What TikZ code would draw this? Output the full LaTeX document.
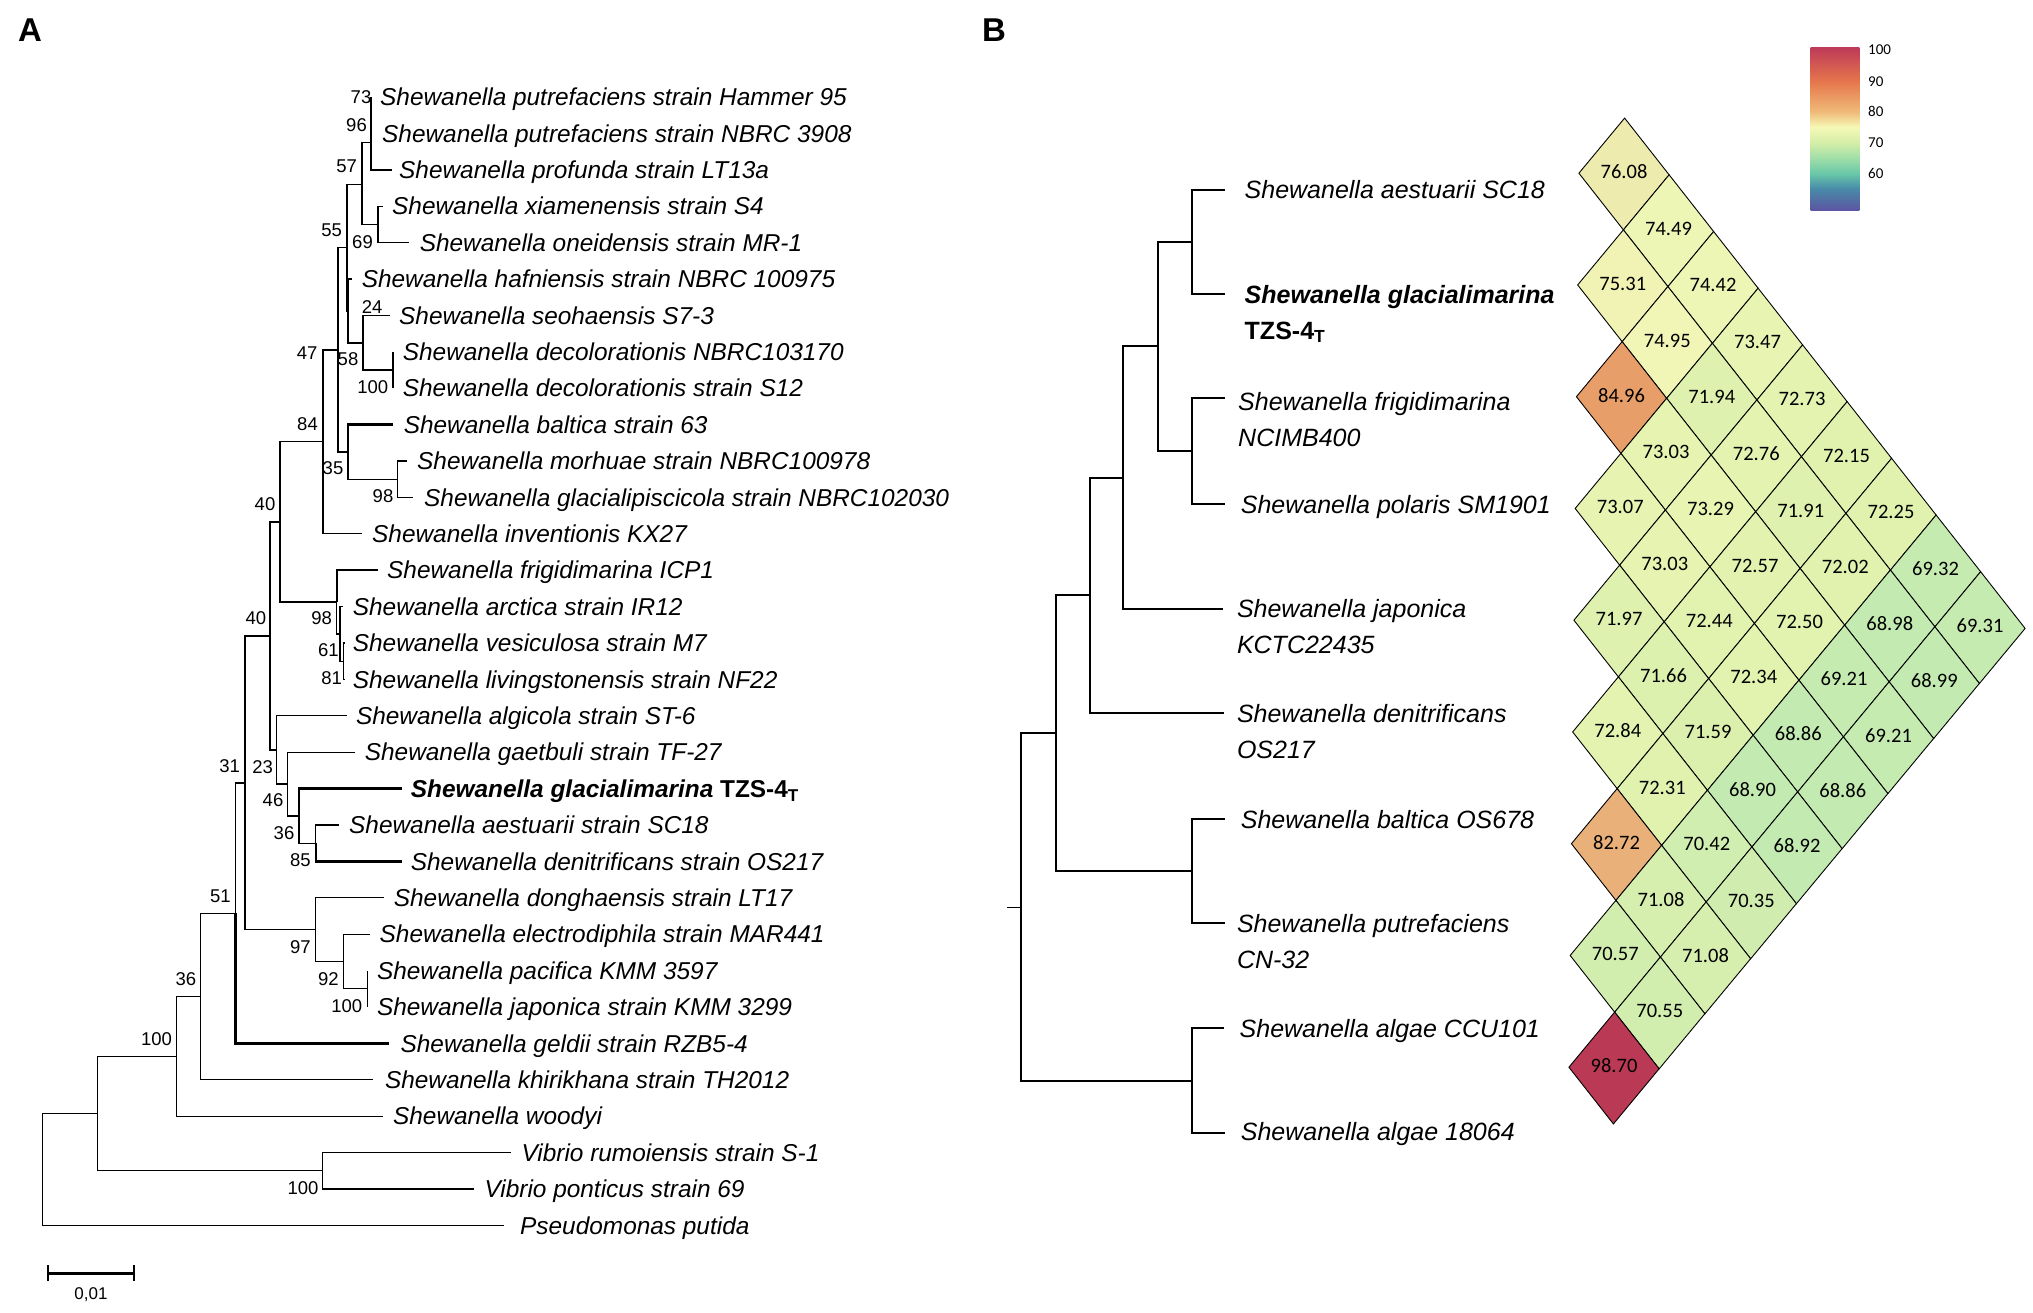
\documentclass[tikz,border=0pt]{standalone}
\usepackage{fontspec}
\setmainfont{Liberation Sans}
\newfontfamily\cellfont{Carlito}
\usetikzlibrary{positioning}

% colour bar of panel B
\definecolor{cb48}{RGB}{92,84,162}
\definecolor{cb55}{RGB}{72,140,168}
\definecolor{cb60}{RGB}{105,200,168}
\definecolor{cb65}{RGB}{160,222,168}
\definecolor{cb70}{RGB}{212,238,168}
\definecolor{cb75}{RGB}{246,248,182}
\definecolor{cb80}{RGB}{240,186,120}
\definecolor{cb90}{RGB}{230,118,76}
\definecolor{cb100}{RGB}{190,58,88}
\pgfdeclareverticalshading{spectralbar}{100bp}{color(0bp)=(cb48); color(25bp)=(cb48);
  color(31.9bp)=(cb55); color(36.4bp)=(cb60); color(41.1bp)=(cb65); color(45.8bp)=(cb70);
  color(50.6bp)=(cb75); color(55.3bp)=(cb80); color(64.5bp)=(cb90); color(75bp)=(cb100);
  color(100bp)=(cb100)}

% cell colour from the ANI value
\newcommand{\hmmix}[8]{%
  \pgfmathsetmacro{\hmt}{(\hmval-#1)/(#2-#1)}%
  \pgfmathtruncatemacro{\hmr}{#3+\hmt*(#6-#3)}%
  \pgfmathtruncatemacro{\hmg}{#4+\hmt*(#7-#4)}%
  \pgfmathtruncatemacro{\hmb}{#5+\hmt*(#8-#5)}%
  \definecolor{hmfill}{RGB}{\hmr,\hmg,\hmb}}
\newcommand{\hmcolor}[1]{%
  \pgfmathsetmacro{\hmval}{#1}%
  \ifdim\hmval pt<72pt \hmmix{68}{72}{186}{232}{178}{224}{242}{174}%
  \else\ifdim\hmval pt<75pt \hmmix{72}{75}{224}{242}{174}{242}{247}{184}%
  \else\ifdim\hmval pt<77pt \hmmix{75}{77}{242}{247}{184}{236}{226}{166}%
  \else\ifdim\hmval pt<85pt \hmmix{77}{85}{236}{226}{166}{232}{158}{104}%
  \else \hmmix{85}{99}{232}{158}{104}{186}{55}{84}\fi\fi\fi\fi}
\newcommand{\twolines}[2]{\vtop{\hbox{#1}\hbox{#2}}}

\tikzset{
  panel/.style={inner sep=0pt, font=\bfseries\fontsize{33}{36}\selectfont},
  branch/.style={line width=1.3pt},
  thickbranch/.style={line width=2.3pt},
  branchB/.style={line width=2pt},
  leafA/.style={anchor=west, inner sep=0pt, font=\itshape\fontsize{24.4}{28}\selectfont,
    text height=23.4pt, text depth=6pt},
  leafB/.style={anchor=west, inner sep=0pt, font=\itshape\fontsize{25}{36}\selectfont,
    text height=24pt, text depth=6pt},
  boot/.style={inner sep=0pt, font=\fontsize{18.5}{20}\selectfont},
  scalelab/.style={inner sep=0pt, font=\fontsize{17}{19}\selectfont},
  hmcell/.style={draw=black, line width=0.9pt, fill=hmfill},
  hmnum/.style={inner sep=0pt, font=\cellfont\fontsize{20.5}{22}\selectfont},
  barlab/.style={anchor=west, inner sep=0pt, font=\cellfont\fontsize{15}{17}\selectfont}
}

\begin{document}
\begin{tikzpicture}[x=1pt, y=-1pt]
\useasboundingbox (0,0) rectangle (2033,1312);
\fill[white] (0,0) rectangle (2033,1312);

\node[panel] (pA) at (30,30) {A};
\node[panel] (pB) at (994,30) {B};

% ---- A: neighbour-joining tree ----
\foreach \k/\tx/\lx/\taxon in {
  1/371/380/Shewanella putrefaciens strain Hammer 95,
  2/371/382/Shewanella putrefaciens strain NBRC 3908,
  3/391.5/399/Shewanella profunda strain LT13a,
  4/383/392/Shewanella xiamenensis strain S4,
  5/409/419.6/Shewanella oneidensis strain MR-1,
  6/352/361.6/Shewanella hafniensis strain NBRC 100975,
  7/390/399/Shewanella seohaensis S7-3,
  8/393/402.7/Shewanella decolorationis NBRC103170,
  9/393/402.7/Shewanella decolorationis strain S12,
  10/393/403.6/Shewanella baltica strain 63,
  11/407/417/Shewanella morhuae strain NBRC100978,
  12/413/424/Shewanella glacialipiscicola strain NBRC102030,
  13/361.7/372/Shewanella inventionis KX27,
  14/378.3/387/Shewanella frigidimarina ICP1,
  15/343/352.7/Shewanella arctica strain IR12,
  16/345/352.7/Shewanella vesiculosa strain M7,
  17/345/352.7/Shewanella livingstonensis strain NF22,
  18/346.7/355.8/Shewanella algicola strain ST-6,
  19/355/364.7/Shewanella gaetbuli strain TF-27,
  20/401.7/410.7/{\bfseries Shewanella glacialimarina \upshape TZS-4\textsubscript{T}},
  21/339.3/349/Shewanella aestuarii strain SC18,
  22/401.7/410.7/Shewanella denitrificans strain OS217,
  23/384/393.7/Shewanella donghaensis strain LT17,
  24/370/379.5/Shewanella electrodiphila strain MAR441,
  25/367.7/376.8/Shewanella pacifica KMM 3597,
  26/367.7/376.8/Shewanella japonica strain KMM 3299,
  27/389.3/400.4/Shewanella geldii strain RZB5-4,
  28/372.8/384.8/Shewanella khirikhana strain TH2012,
  29/383/392.9/Shewanella woodyi,
  30/511/521.4/Vibrio rumoiensis strain S-1,
  31/474/484.4/Vibrio ponticus strain 69,
  32/503.6/520/Pseudomonas putida}{
  \pgfmathsetmacro{\ly}{97+36.4*(\k-1)}
  \coordinate (t\k) at (\tx,\ly);
  \node[leafA] (s\k) at (\lx,\ly) {\taxon};
}

\coordinate (a1) at (371,115.2);
\coordinate (a2) at (371,142.5);
\coordinate (a3) at (362,184.4);
\coordinate (a4) at (378,224.4);
\coordinate (a5) at (347,247.6);
\coordinate (a6) at (348,310.9);
\coordinate (a7) at (363,342.7);
\coordinate (a8) at (393,370);
\coordinate (a9) at (348,451.9);
\coordinate (a10) at (397.7,479.2);
\coordinate (a11) at (338,349.8);
\coordinate (a12) at (323,441.8);
\coordinate (a13) at (336.7,602.1);
\coordinate (a14) at (340,633.9);
\coordinate (a15) at (343.5,661.2);
\coordinate (a16) at (280,522);
\coordinate (a17) at (315.7,843.2);
\coordinate (a18) at (299,815.9);
\coordinate (a19) at (287.3,784.1);
\coordinate (a20) at (276.7,750);
\coordinate (a21) at (270,636);
\coordinate (a22) at (367.7,988.8);
\coordinate (a23) at (343.3,961.5);
\coordinate (a24) at (315.7,929.7);
\coordinate (a25) at (245,782.9);
\coordinate (a26) at (235.5,913.2);
\coordinate (a27) at (200.8,996.5);
\coordinate (a28) at (176.5,1056.4);
\coordinate (a29) at (322.3,1170.8);
\coordinate (a30) at (97.3,1113.6);
\coordinate (a31) at (42.4,1169.5);

\draw[branch] (a1) |- (t1) (a1) |- (t2) (a2) |- (a1)
  (a3) |- (a2) (a3) |- (a4) (a4) |- (t4) (a4) |- (t5)
  (a6) |- (t6) (a7) |- (t7) (a7) |- (a8) (a8) |- (t8) (a8) |- (t9)
  (a5) |- (a3) (a5) |- (a6)
  (a10) |- (t11) (a10) |- (t12) (a9) |- (a10)
  (a11) |- (a5) (a11) |- (a9) (a12) |- (t13)
  (a15) |- (t16) (a15) |- (t17) (a14) |- (t15) (a14) |- (a15) (a13) |- (a14)
  (a16) |- (a12) (a16) |- (a13)
  (a17) |- (t21) (a18) |- (a17) (a19) |- (t19) (a19) |- (a18)
  (a20) |- (t18) (a20) |- (a19) (a21) |- (a16) (a21) |- (a20)
  (a22) |- (t25) (a22) |- (t26) (a23) |- (t24) (a23) |- (a22)
  (a24) |- (t23) (a24) |- (a23) (a25) |- (a21) (a25) |- (a24)
  (a26) |- (a25) (a27) |- (a26) (a27) |- (t28) (a28) |- (a27) (a28) |- (t29)
  (a29) |- (t30) (a29) |- (t31) (a30) |- (a28) (a30) |- (a29)
  (a31) |- (a30) (a31) |- (t32);
\draw[thickbranch] (a2) |- (t3) (a6) |- (a7) (a9) |- (t10) (a12) |- (a11)
  (a13) |- (t14) (a18) |- (t20) (a17) |- (t22) (a26) |- (t27);

% bootstrap values
\foreach \bx/\by/\bv [count=\n] in {361/97/73, 356.5/125/96, 346.7/166.7/57,
  331.7/230/55, 362.5/241.7/69, 372.2/306.7/24, 348/359.3/58, 372.8/386.7/100,
  307.2/352.7/47, 307.5/424/84, 333/468.3/35, 383/496/98, 265/504/40,
  255.8/618.3/40, 321.7/618.3/98, 328.3/650/61, 331.7/678.3/81, 229.7/766/31,
  262.7/766.7/23, 273/800/46, 284/832.7/36, 300.3/860/85, 220.3/896.7/51,
  300.3/946.7/97, 328.3/979.3/92, 346.7/1006/100, 185.8/979.3/36,
  156.5/1039.3/100, 303/1187.7/100}
  \node[boot] (bs\n) at (\bx,\by) {\bv};

% scale bar
\coordinate (sb1) at (47.8,1273);
\coordinate (sb2) at (134,1273);
\draw[line width=3pt] (sb1) -- (sb2);
\draw[line width=2.5pt] (sb1) ++(0,-8) -- ++(0,16) (sb2) ++(0,-8) -- ++(0,16);
\node[scalelab] (sbl) at (91,1295) {0,01};

% ---- B: tree of the ten genomes ----
\foreach \k/\yy/\tx in {1/189.6/1225.4, 2/294/1225.4, 3/398/1225.4, 4/504/1225.4,
  5/608.6/1223.4, 6/713.3/1224.2, 7/819/1225.4, 8/923.3/1225.4, 9/1028.3/1224,
  10/1133.3/1225.4}
  \coordinate (u\k) at (\tx,\yy);

\node[leafB] (v1) at (1244.5,189.6) {Shewanella aestuarii SC18};
\node[leafB] (v2) at (1244.5,294) {\twolines{\bfseries Shewanella glacialimarina}{\bfseries\upshape TZS-4\textsubscript{T}}};
\node[leafB] (v3) at (1238,401) {\twolines{Shewanella frigidimarina}{NCIMB400}};
\node[leafB] (v4) at (1240.7,504) {Shewanella polaris SM1901};
\node[leafB] (v5) at (1236.8,608.6) {\twolines{Shewanella japonica}{KCTC22435}};
\node[leafB] (v6) at (1236.8,713.3) {\twolines{Shewanella denitrificans}{OS217}};
\node[leafB] (v7) at (1240.7,819) {Shewanella baltica OS678};
\node[leafB] (v8) at (1236.8,923.3) {\twolines{Shewanella putrefaciens}{CN-32}};
\node[leafB] (v9) at (1239.5,1028.3) {Shewanella algae CCU101};
\node[leafB] (v10) at (1240.7,1131) {Shewanella algae 18064};

\coordinate (b1) at (1191.7,241.8);
\coordinate (b2) at (1191.7,451);
\coordinate (b3) at (1157.6,346.4);
\coordinate (b4) at (1123.2,477.5);
\coordinate (b5) at (1089.5,595.4);
\coordinate (b6) at (1191.7,871.2);
\coordinate (b7) at (1055.8,733.3);
\coordinate (b8) at (1191.7,1080.8);
\coordinate (b9) at (1020.6,907.1);
\coordinate (b0) at (1007.2,907.1);

\draw[branchB] (b1) |- (u1) (b1) |- (u2) (b2) |- (u3) (b2) |- (u4)
  (b3) |- (b1) (b3) |- (b2) (b4) |- (b3) (b4) |- (u5) (b5) |- (b4) (b5) |- (u6)
  (b6) |- (u7) (b6) |- (u8) (b7) |- (b5) (b7) |- (b6) (b8) |- (u9) (b8) |- (u10)
  (b9) |- (b7) (b9) |- (b8);
\draw[line width=1pt] (b0) -- (b9);

% ANI heat map
\foreach \i/\j/\v in {1/2/76.08, 1/3/74.49, 2/3/75.31, 1/4/74.42, 2/4/74.95,
  1/5/73.47, 3/4/84.96, 2/5/71.94, 1/6/72.73, 3/5/73.03, 2/6/72.76, 1/7/72.15,
  4/5/73.07, 3/6/73.29, 2/7/71.91, 1/8/72.25, 4/6/73.03, 3/7/72.57, 2/8/72.02,
  1/9/69.32, 5/6/71.97, 4/7/72.44, 3/8/72.50, 2/9/68.98, 1/10/69.31, 5/7/71.66,
  4/8/72.34, 3/9/69.21, 2/10/68.99, 6/7/72.84, 5/8/71.59, 4/9/68.86, 3/10/69.21,
  6/8/72.31, 5/9/68.90, 4/10/68.86, 7/8/82.72, 6/9/70.42, 5/10/68.92, 7/9/71.08,
  6/10/70.35, 8/9/70.57, 7/10/71.08, 8/10/70.55, 9/10/98.70}{
  \hmcolor{\v}
  \pgfmathsetmacro{\hmx}{1624+(\j-2)*44.5-(\i-1)*45.75}
  \pgfmathsetmacro{\hmy}{174+(\j-2)*56.7+(\i-1)*55.05}
  \filldraw[hmcell] (\hmx+0.6,\hmy-55.9) -- (\hmx+45.1,\hmy+0.8)
    -- (\hmx-0.6,\hmy+55.9) -- (\hmx-45.1,\hmy-0.8) -- cycle;
  \node[hmnum] (h\i-\j) at (\hmx,\hmy-2) {\v};
}

% colour key
\shade[shading=spectralbar] (1810.7,47.3) rectangle (1859.3,210.7);
\foreach \ty/\tv in {49.3/100, 81.7/90, 111.7/80, 142.7/70, 173.3/60}
  \node[barlab] (cb\tv) at (1868,\ty) {\tv};
\end{tikzpicture}
\end{document}
